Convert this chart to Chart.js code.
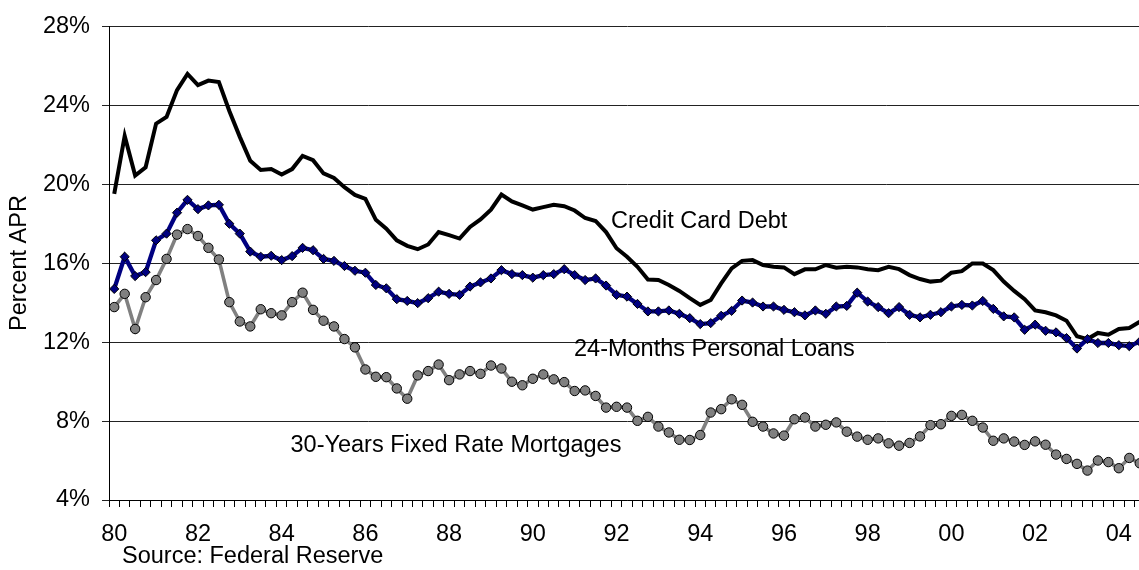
<!DOCTYPE html>
<html><head><meta charset="utf-8">
<script src="https://cdn.jsdelivr.net/npm/chart.js@4"></script>
<style>
html,body{margin:0;padding:0;background:#fff;overflow:hidden;}
#wrap{position:relative;width:1139px;height:570px;overflow:hidden;background:#fff;}
#c{position:absolute;left:0;top:0;}
.note{position:absolute;font-family:"Liberation Sans",Arial,sans-serif;font-size:23.5px;line-height:23.5px;color:#000;white-space:nowrap;}
</style></head><body>
<div id="wrap">
<canvas id="c" width="1145" height="570" style="width:1145px;height:570px"></canvas>
<div class="note" style="left:611px;top:209px">Credit Card Debt</div>
<div class="note" style="left:574px;top:337px">24-Months Personal Loans</div>
<div class="note" style="left:290.5px;top:432.5px">30-Years Fixed Rate Mortgages</div>
<div class="note" style="left:122px;top:544px">Source: Federal Reserve</div>
</div>
<script>
// Quarterly observations, 1980 Q1 onward
const quarters = [];
for (let y = 1980; y <= 2004; y++) for (let q = 1; q <= 4; q++) quarters.push(y + ' Q' + q);
const categories = quarters.slice(0, 99);

const tickLabels = ['80','82','84','86','88','90','92','94','96','98','00','02','04'];
const yTicks = [4, 8, 12, 16, 20, 24, 28];

const creditCard = [
  19.50, 22.44, 20.43, 20.85, 23.06, 23.40, 24.76, 25.58, 25.01, 25.24,
  25.17, 23.70, 22.39, 21.18, 20.71, 20.76, 20.48, 20.76, 21.43, 21.21,
  20.54, 20.31, 19.84, 19.45, 19.25, 18.19, 17.74, 17.15, 16.87, 16.70,
  16.94, 17.57, 17.41, 17.24, 17.83, 18.21, 18.70, 19.47, 19.12, 18.92,
  18.71, 18.83, 18.95, 18.88, 18.66, 18.28, 18.13, 17.57, 16.75, 16.32,
  15.81, 15.17, 15.14, 14.89, 14.59, 14.22, 13.88, 14.13, 14.97, 15.73,
  16.11, 16.15, 15.90, 15.81, 15.78, 15.44, 15.68, 15.68, 15.90, 15.76,
  15.81, 15.78, 15.69, 15.64, 15.81, 15.69, 15.39, 15.19, 15.06, 15.11,
  15.51, 15.59, 15.98, 15.98, 15.64, 15.06, 14.59, 14.17, 13.60, 13.51,
  13.35, 13.08, 12.29, 12.15, 12.46, 12.37, 12.66, 12.71, 13.03
];
const personalLoans = [
  14.69, 16.32, 15.34, 15.54, 17.15, 17.49, 18.55, 19.20, 18.73, 18.92,
  18.95, 17.99, 17.49, 16.58, 16.32, 16.37, 16.15, 16.35, 16.77, 16.65,
  16.21, 16.11, 15.85, 15.61, 15.51, 14.89, 14.72, 14.17, 14.08, 13.97,
  14.22, 14.55, 14.44, 14.39, 14.81, 15.02, 15.22, 15.64, 15.44, 15.39,
  15.26, 15.39, 15.44, 15.69, 15.39, 15.14, 15.22, 14.86, 14.39, 14.30,
  13.93, 13.55, 13.55, 13.60, 13.43, 13.21, 12.91, 12.96, 13.33, 13.58,
  14.10, 14.00, 13.80, 13.80, 13.63, 13.51, 13.35, 13.60, 13.43, 13.80,
  13.83, 14.50, 14.05, 13.77, 13.46, 13.77, 13.38, 13.25, 13.38, 13.51,
  13.80, 13.88, 13.85, 14.08, 13.68, 13.30, 13.25, 12.62, 12.88, 12.57,
  12.49, 12.20, 11.67, 12.15, 11.95, 11.95, 11.84, 11.79, 12.02
];
const mortgages = [
  13.77, 14.44, 12.66, 14.27, 15.14, 16.21, 17.44, 17.72, 17.37, 16.77,
  16.18, 14.02, 13.04, 12.79, 13.66, 13.46, 13.35, 14.02, 14.50, 13.63,
  13.08, 12.79, 12.15, 11.73, 10.61, 10.24, 10.22, 9.65, 9.13, 10.31,
  10.53, 10.86, 10.07, 10.36, 10.53, 10.39, 10.81, 10.66, 9.99, 9.81,
  10.14, 10.36, 10.11, 9.97, 9.52, 9.55, 9.27, 8.68, 8.72, 8.68,
  8.01, 8.21, 7.72, 7.42, 7.05, 7.04, 7.29, 8.43, 8.60, 9.10,
  8.82, 7.96, 7.72, 7.37, 7.26, 8.09, 8.18, 7.72, 7.81, 7.93,
  7.46, 7.21, 7.05, 7.12, 6.87, 6.75, 6.89, 7.22, 7.79, 7.84,
  8.26, 8.31, 8.01, 7.67, 7.00, 7.12, 6.96, 6.79, 6.97, 6.80,
  6.30, 6.08, 5.83, 5.49, 6.00, 5.92, 5.61, 6.13, 5.86
];

const FONT = '"Liberation Sans", Arial, sans-serif';

new Chart(document.getElementById('c'), {
  type: 'line',
  data: {
    labels: categories,
    datasets: [
      {
        label: 'Credit Card Debt', data: creditCard, order: 1,
        borderColor: '#000000', borderWidth: 4, pointRadius: 0, tension: 0
      },
      {
        label: '24-Months Personal Loans', data: personalLoans, order: 0,
        borderColor: '#000080', borderWidth: 4.3, tension: 0,
        pointStyle: 'rectRot', pointRadius: 4.6,
        pointBackgroundColor: '#000080', pointBorderColor: '#000000', pointBorderWidth: 1
      },
      {
        label: '30-Years Fixed Rate Mortgages', data: mortgages, order: 2,
        borderColor: '#808080', borderWidth: 3.6, tension: 0,
        pointStyle: 'circle', pointRadius: 4.7,
        pointBackgroundColor: '#808080', pointBorderColor: '#000000', pointBorderWidth: 1
      }
    ]
  },
  options: {
    responsive: false,
    animation: false,
    events: [],
    layout: { autoPadding: false, padding: { top: 23, right: 0, left: 0, bottom: 0 } },
    plugins: { legend: { display: false }, tooltip: { enabled: false } },
    scales: {
      x: {
        type: 'category',
        offset: true,
        afterFit: s => { s.height = 70; s.paddingLeft = 0; s.paddingRight = 0; },
        grid: { offset: true, drawOnChartArea: false, drawTicks: true, tickLength: 7, color: '#000' },
        border: { display: true, color: '#000', width: 1 },
        ticks: {
          autoSkip: false, maxRotation: 0, minRotation: 0, padding: 13,
          color: '#000', font: { family: FONT, size: 23.5 },
          callback: (v, i) => (i % 8 === 0 ? tickLabels[i / 8] : '')
        }
      },
      y: {
        min: 4, max: 28,
        afterFit: s => { s.width = 109; },
        afterBuildTicks: s => { s.ticks = yTicks.map(v => ({ value: v })); },
        grid: { color: '#222', drawTicks: true, tickLength: 7 },
        border: { display: true, color: '#000', width: 1 },
        ticks: {
          padding: 12, color: '#000', font: { family: FONT, size: 23.5 },
          callback: v => v + '%'
        },
        title: {
          display: true, text: 'Percent APR', color: '#000',
          font: { family: FONT, size: 23.5 }, padding: { top: 5, bottom: 0 }
        }
      }
    }
  }
});
</script>
</body></html>
